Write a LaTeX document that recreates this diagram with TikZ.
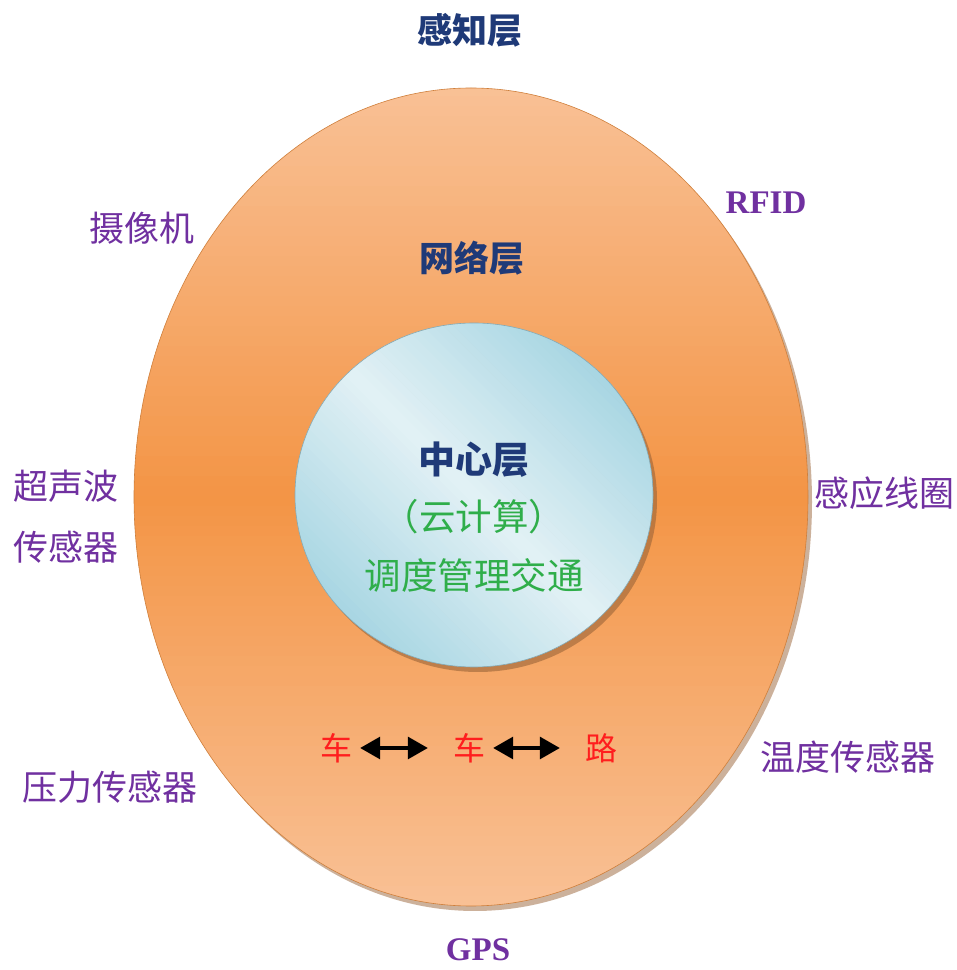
\documentclass[tikz,border=0pt]{standalone}
\usepackage{fontspec}
\setmainfont{Liberation Serif}
\newfontfamily\cjk{Noto Sans CJK SC}
\usetikzlibrary{arrows.meta}
\definecolor{navy}{HTML}{1F3A78}
\definecolor{lbl}{HTML}{7030A0}
\definecolor{grn}{HTML}{2FAE4A}
\definecolor{peach}{HTML}{F9C196}
\definecolor{orng}{HTML}{F39546}
\definecolor{sky}{HTML}{A6D5E2}
\definecolor{skyl}{HTML}{E2F1F5}
\definecolor{redt}{HTML}{FF1E1E}
\definecolor{shad}{HTML}{9A6438}
\tikzset{
  base/.style={inner sep=0pt, font=\cjk\fontsize{35}{61}\selectfont},
  layer/.style={base, text=navy, font=\cjk\bfseries\fontsize{35}{61}\selectfont},
  corelayer/.style={base, text=navy, font=\cjk\bfseries\fontsize{37}{61}\selectfont},
  dev/.style={base, text=lbl},
  latin/.style={inner sep=0pt, text=lbl, font=\bfseries\fontsize{33}{40}\selectfont},
  cloud/.style={base, text=grn, font=\cjk\fontsize{36.5}{61}\selectfont},
  vehicle/.style={base, text=redt, font=\cjk\fontsize{32}{40}\selectfont},
  link/.style={line width=3.2pt, {Triangle[length=20pt,width=22pt]}-{Triangle[length=20pt,width=22pt]}, shorten <=8pt, shorten >=25pt}
}
\begin{document}
\begin{tikzpicture}[x=1pt,y=1pt]
\useasboundingbox (0,0) rectangle (957,970);
\fill[white] (0,0) rectangle (957,970);
% outer ellipse (network layer): shadow + vertical gradient
\fill[shad, opacity=0.5] (475,468) ellipse [x radius=337, y radius=409];
\begin{scope}
  \clip (471,473) ellipse [x radius=337, y radius=409];
  \foreach \i in {0,...,81}{
    \pgfmathsetmacro\yy{64+10*\i}
    \pgfmathtruncatemacro\tt{min(100,abs(\yy+5-473)/409*100)}
    \fill[peach!\tt!orng] (130,\yy) rectangle (815,\yy+10.8);
  }
\end{scope}
\draw[orng!85!black, line width=0.6pt] (471,473) ellipse [x radius=337, y radius=409];
% inner circle (centre layer): shadow + diagonal gradient
\fill[shad, opacity=0.6] (478,470) ellipse [x radius=179, y radius=172];
\begin{scope}
  \clip (474,475) ellipse [x radius=179, y radius=172];
  \begin{scope}[rotate around={-45:(474,475)}]
    \foreach \i in {0,...,51}{
      \pgfmathsetmacro\yy{475-182+7*\i}
      \pgfmathtruncatemacro\tt{min(100,abs(\yy+3.5-475)/180*100)}
      \fill[sky!\tt!skyl] (280,\yy) rectangle (670,\yy+7.6);
    }
  \end{scope}
\end{scope}
\draw[sky!80!black, line width=0.6pt] (474,475) ellipse [x radius=179, y radius=172];
% labels
\node[layer] (sense) at (470,940) {感知层};
\node[layer] (net) at (472,712) {网络层};
\node[corelayer] (core) at (474,510) {中心层};
\node[cloud] (cloudc) at (474,453) {（云计算）};
\node[cloud] (dispatch) at (474,394) {调度管理交通};
\node[dev] (cam) at (142,742) {摄像机};
\node[latin] (rfid) at (766,767) {RFID};
\node[dev, align=left, anchor=west] (ultra) at (13,453) {超声波\\传感器};
\node[dev] (coil) at (884,477) {感应线圈};
\node[dev] (temp) at (848,213) {温度传感器};
\node[dev] (press) at (110,183) {压力传感器};
\node[latin] (gps) at (478,20) {GPS};
% vehicle / road cooperation
\node[vehicle] (car1) at (336,222) {车};
\node[vehicle] (car2) at (469,222) {车};
\node[vehicle] (road) at (601,222) {路};
\draw[link] (car1) -- (car2);
\draw[link] (car2) -- (road);
\end{tikzpicture}
\end{document}
